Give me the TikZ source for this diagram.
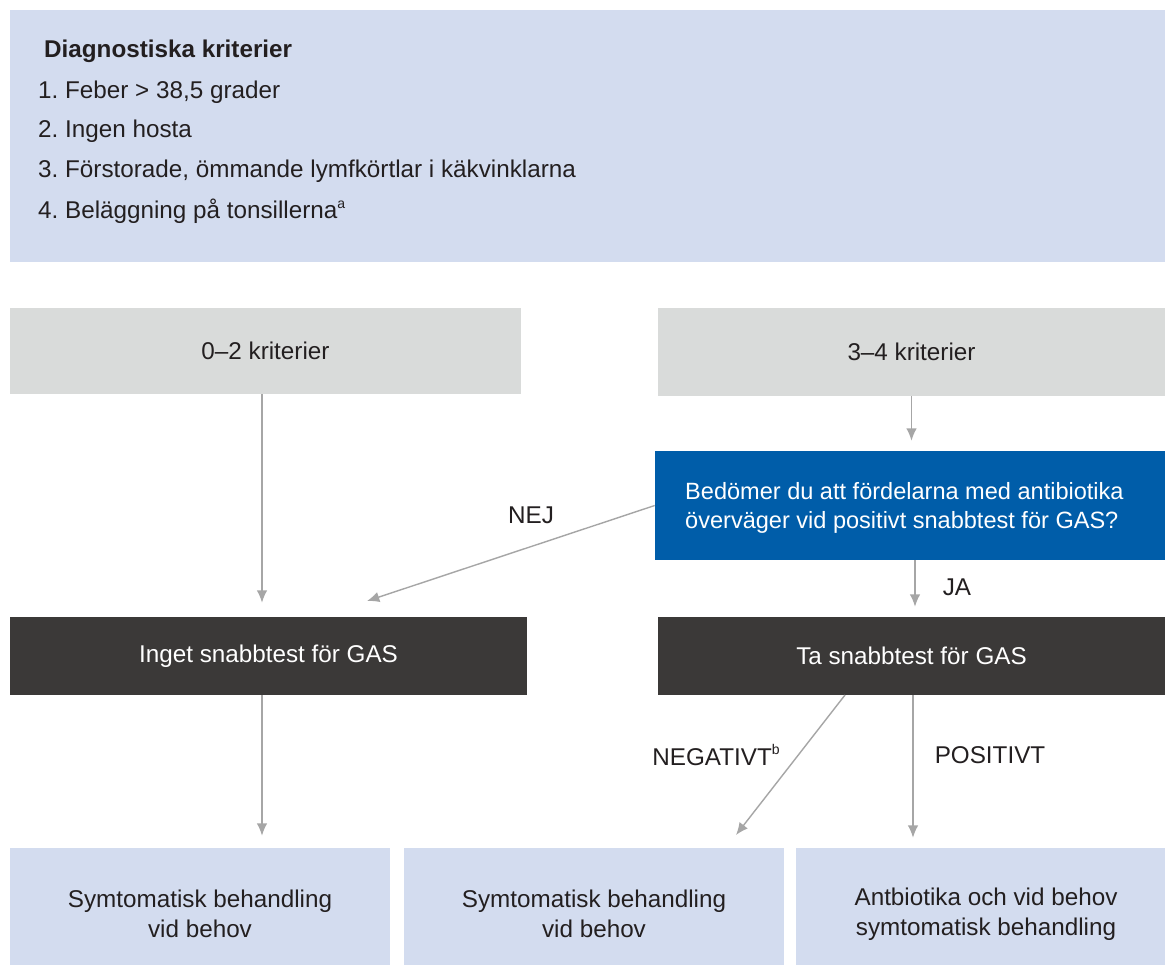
\documentclass[tikz,border=0pt]{standalone}
\usepackage{fontspec}
\setmainfont{Liberation Sans}
\frenchspacing
\usetikzlibrary{arrows.meta,positioning}
\definecolor{critblue}{HTML}{D3DCEF}
\definecolor{boxgrey}{HTML}{D9DBDA}
\definecolor{askblue}{HTML}{005DA9}
\definecolor{darkbox}{HTML}{3B3938}
\definecolor{arrowgrey}{HTML}{A6A6A6}
\definecolor{ink}{HTML}{231F20}
\newcommand{\supnote}[1]{\raisebox{0.42em}{\fontsize{8}{8}\selectfont #1}}
\tikzset{
  every node/.style={font=\fontsize{13.8}{17}\selectfont, text=ink},
  box/.style={rectangle, inner sep=0pt, align=center},
  flow/.style={draw=arrowgrey, line width=0.8pt, -{Latex[length=7pt,width=6pt]}},
}

\begin{document}
\begin{tikzpicture}[x=0.02cm, y=-0.02cm]
    \useasboundingbox[fill=white] (0,0) rectangle (1165,965);
    % criteria box
    \node [box, fill=critblue, minimum width=23.1cm, minimum height=5.04cm] (crit) at (587.5,136) {};
    \node [anchor=west, font=\fontsize{13.8}{17}\selectfont\bfseries] (crithead) at (38,51) {Diagnostiska kriterier};
    \node [anchor=west] (crit1) at (32,92) {1. Feber > 38,5 grader};
    \node [anchor=west] (crit2) at (32,131) {2. Ingen hosta};
    \node [anchor=west] (crit3) at (32,171) {3. Förstorade, ömmande lymfkörtlar i käkvinklarna};
    \node [anchor=west] (crit4) at (32,211) {4. Beläggning på tonsillerna\supnote{a}};
    % first row
    \node [box, fill=boxgrey, minimum width=10.22cm, minimum height=1.72cm] (low) at (265.5,351) {0–2 kriterier};
    \node [box, fill=boxgrey, minimum width=10.14cm, minimum height=1.76cm] (high) at (911.5,352) {3–4 kriterier};
    \node [box, fill=askblue, minimum width=10.2cm, minimum height=2.18cm] (ask) at (910,505.5) {};
    \node [anchor=west, align=left, text=white, font=\fontsize{13.4}{16.4}\selectfont] (asktext) at (679,508)
      {Bedömer du att fördelarna med antibiotika\\överväger vid positivt snabbtest för GAS?};
    % test row
    \node [box, fill=darkbox, text=white, minimum width=10.34cm, minimum height=1.56cm] (notest) at (268.5,656) {Inget snabbtest för GAS};
    \node [box, fill=darkbox, text=white, minimum width=10.14cm, minimum height=1.56cm] (test) at (911.5,656) {Ta snabbtest för GAS};
    % outcomes
    \node [box, fill=critblue, minimum width=7.6cm, minimum height=2.34cm] (sym1) at (200,906.5) {};
    \node [box, fill=critblue, minimum width=7.6cm, minimum height=2.34cm] (sym2) at (594,906.5) {};
    \node [box, fill=critblue, minimum width=7.38cm, minimum height=2.34cm] (anti) at (980.5,906.5) {};
    \node [box] (sym1text) at (200,914) {Symtomatisk behandling\\vid behov};
    \node [box] (sym2text) at (594,914) {Symtomatisk behandling\\vid behov};
    \node [box] (antitext) at (986,914) {Antbiotika och vid behov\\symtomatisk behandling};
    % arrows
    \coordinate (nejend) at (367,601);
    \coordinate (negstart) at (845,695);
    \coordinate (negend) at (736,835);
    \draw [flow, shorten >=14*0.02cm] ([xshift=-3.5*0.02cm]low.south) -- ([xshift=-3.5*0.02cm]low.south |- notest.north);
    \draw [flow, shorten >=10*0.02cm] (high.south) -- (high.south |- ask.north);
    \draw [flow] (ask.west) -- (nejend);
    \node (nej) at (531,515) {NEJ};
    \draw [flow, shorten >=10*0.02cm] ([xshift=5*0.02cm]ask.south) -- ([xshift=5*0.02cm]ask.south |- test.north);
    \node (ja) at (957,587) {JA};
    \draw [flow, shorten >=12*0.02cm] ([xshift=-6.5*0.02cm]notest.south) -- ([xshift=-6.5*0.02cm]notest.south |- sym1.north);
    \draw [flow] (negstart) -- (negend);
    \draw [flow, shorten >=10*0.02cm] ([xshift=1.5*0.02cm]test.south) -- ([xshift=1.5*0.02cm]test.south |- anti.north);
    \node (neg) at (716,755) {NEGATIVT\supnote{b}};
    \node (pos) at (990,755) {POSITIVT};
\end{tikzpicture}
\end{document}
